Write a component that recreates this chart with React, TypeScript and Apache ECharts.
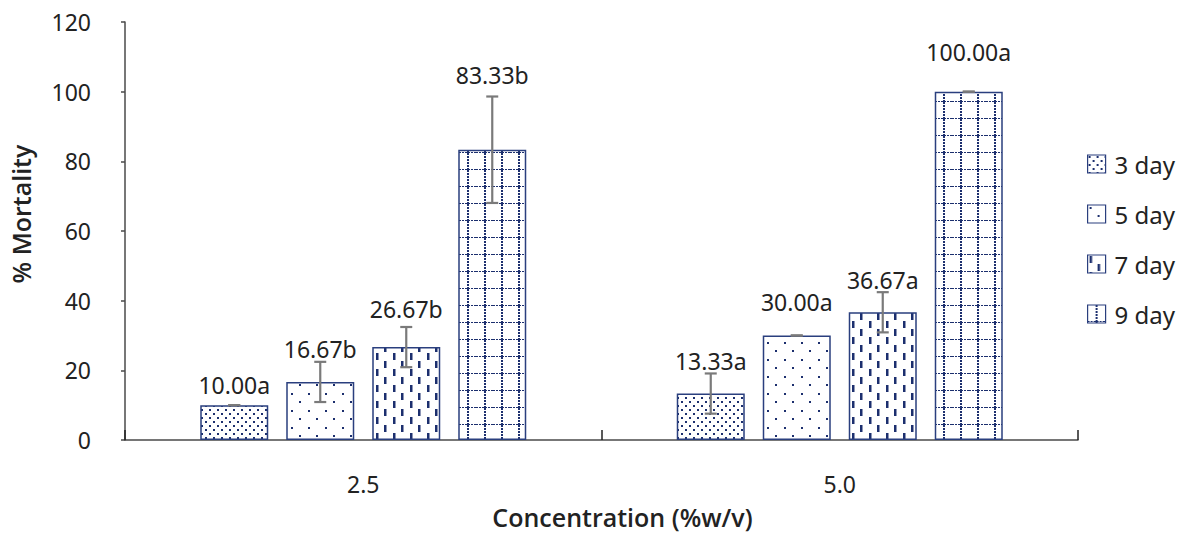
import React, { useEffect, useRef } from "react";
import * as echarts from "echarts";

// ---- data ----
const categories = ["2.5", "5.0"];
const seriesNames = ["3 day", "5 day", "7 day", "9 day"];

const day3 = [10.0, 13.33];
const day5 = [16.67, 30.0];
const day7 = [26.67, 36.67];
const day9 = [83.33, 100.0];

const err3 = [0, 5.77];
const err5 = [5.77, 0];
const err7 = [5.77, 5.77];
const err9 = [15.28, 0];

const letters3 = ["a", "a"];
const letters5 = ["b", "a"];
const letters7 = ["b", "a"];
const letters9 = ["b", "a"];

// height (in % mortality units) at which each value label sits
const labelAt3 = [15.9, 22.7];
const labelAt5 = [26.1, 39.7];
const labelAt7 = [37.7, 46.0];
const labelAt9 = [104.7, 111.5];

const yMin = 0;
const yMax = 120;
const yStep = 20;

const NAVY = "#1c2f6e";
const BORDER = "#2a3f7e";
const FONT = "'Noto Sans', 'Open Sans', sans-serif";
const TITLE_FONT = "'Open Sans', 'Noto Sans', sans-serif";
const TEXT = "#222222";

function tile(w: number, h: number, draw: (ctx: CanvasRenderingContext2D) => void) {
  const c = document.createElement("canvas");
  c.width = w;
  c.height = h;
  const ctx = c.getContext("2d")!;
  ctx.fillStyle = "#ffffff";
  ctx.fillRect(0, 0, w, h);
  ctx.fillStyle = NAVY;
  draw(ctx);
  return c;
}

function patterns() {
  const dense = tile(8, 8, (ctx) => {
    ctx.fillRect(1, 1, 2, 2);
    ctx.fillRect(5, 5, 2, 2);
  });
  const sparse = tile(17, 17, (ctx) => {
    ctx.fillRect(2, 2, 2, 2);
    ctx.fillRect(10, 10, 2, 2);
  });
  const dashes = tile(17, 16, (ctx) => {
    ctx.fillRect(2, 1, 2.5, 7);
    ctx.fillRect(10, 9, 2.5, 7);
  });
  const grid = tile(17, 17, (ctx) => {
    for (let i = 0; i < 17; i += 3) {
      ctx.fillRect(i, 16, 2, 1.5);
      ctx.fillRect(8, i, 2, 2);
    }
  });
  return [dense, sparse, dashes, grid].map((image) => ({
    image,
    repeat: "repeat" as const,
  }));
}

export default function App() {
  const ref = useRef<HTMLDivElement>(null);

  useEffect(() => {
    if (!ref.current) return;
    const chart = echarts.init(ref.current, undefined, { renderer: "svg" });
    const fills = patterns();
    const values = [day3, day5, day7, day9];
    const errs = [err3, err5, err7, err9];
    const letters = [letters3, letters5, letters7, letters9];
    const labelAts = [labelAt3, labelAt5, labelAt7, labelAt9];

    const barWidth = 68;
    const gapPx = 18;

    const barSeries = seriesNames.map((name, i) => ({
      name,
      type: "bar",
      data: values[i],
      barWidth,
      barGap: `${(gapPx / barWidth) * 100}%`,
      itemStyle: {
        color: fills[i],
        borderColor: BORDER,
        borderWidth: 1.5,
      },
      z: 2,
    }));

    const errSeries = seriesNames.map((name, i) => ({
      name: name + " err",
      type: "custom",
      z: 5,
      silent: true,
      data: values[i].map((v, ci) => [ci, v, errs[i][ci], labelAts[i][ci]]),
      encode: { x: 0, y: 1 },
      renderItem: (params: any, api: any) => {
        const ci = api.value(0);
        const v = api.value(1);
        const e = api.value(2);
        const la = api.value(3);
        const offset = (i - (seriesNames.length - 1) / 2) * (barWidth + gapPx);
        const base = api.coord([ci, v]);
        const x = base[0] + offset;
        const top = api.coord([ci, v + e])[1];
        const bot = api.coord([ci, v - e])[1];
        const ly = api.coord([ci, la])[1];
        const stroke = { stroke: "#7a7a7a", lineWidth: 2.2 };
        const capW = 6;
        return {
          type: "group",
          children: [
            { type: "line", shape: { x1: x, y1: top, x2: x, y2: bot }, style: stroke },
            { type: "line", shape: { x1: x - capW, y1: top, x2: x + capW, y2: top }, style: stroke },
            { type: "line", shape: { x1: x - capW, y1: bot, x2: x + capW, y2: bot }, style: stroke },
            {
              type: "text",
              x,
              y: ly,
              style: {
                text: v.toFixed(2) + letters[i][ci],
                fill: TEXT,
                font: `23px ${FONT}`,
                align: "center",
                verticalAlign: "middle",
              },
            },
          ],
        };
      },
    }));

    chart.setOption({
      animation: false,
      backgroundColor: "#ffffff",
      grid: { left: 122, right: 105, top: 22, bottom: 88, containLabel: false },
      legend: {
        data: seriesNames,
        orient: "vertical",
        left: 1087,
        top: 152,
        itemWidth: 18,
        itemHeight: 18,
        itemGap: 26,
        padding: 0,
        icon: "rect",
        itemStyle: { borderColor: BORDER, borderWidth: 1.2 },
        textStyle: { fontSize: 24, fontFamily: FONT, color: TEXT, padding: [0, 0, 0, 4] },
      },
      xAxis: {
        type: "category",
        data: categories,
        name: "Concentration (%w/v)",
        nameLocation: "middle",
        nameGap: 64,
        nameTextStyle: {
          fontSize: 25,
          fontWeight: 600,
          fontFamily: TITLE_FONT,
          color: TEXT,
          padding: [0, 0, 0, 42],
        },
        axisLine: { lineStyle: { color: "#4a4a4a", width: 1.5 } },
        axisTick: { show: true, inside: true, length: 10, lineStyle: { color: "#222", width: 1.5 } },
        axisLabel: { fontSize: 23, fontFamily: FONT, color: TEXT, margin: 32 },
        splitLine: { show: false },
      },
      yAxis: {
        type: "value",
        min: yMin,
        max: yMax,
        interval: yStep,
        name: "% Mortality",
        nameLocation: "middle",
        nameGap: 92,
        nameTextStyle: {
          fontSize: 25,
          fontWeight: 600,
          fontFamily: TITLE_FONT,
          color: TEXT,
          padding: [0, 0, 0, 34],
        },
        axisLine: { show: true, lineStyle: { color: "#4a4a4a", width: 1.5 } },
        axisTick: { show: true, inside: false, length: 4, lineStyle: { color: "#4a4a4a", width: 1.5 } },
        axisLabel: { fontSize: 23, fontFamily: FONT, color: TEXT, margin: 34 },
        splitLine: { show: false },
      },
      series: [...barSeries, ...errSeries],
    });

    return () => chart.dispose();
  }, []);

  return (
    <div
      ref={ref}
      style={{ position: "fixed", left: 0, top: 0, width: 1183, height: 534, background: "#fff" }}
    />
  );
}
